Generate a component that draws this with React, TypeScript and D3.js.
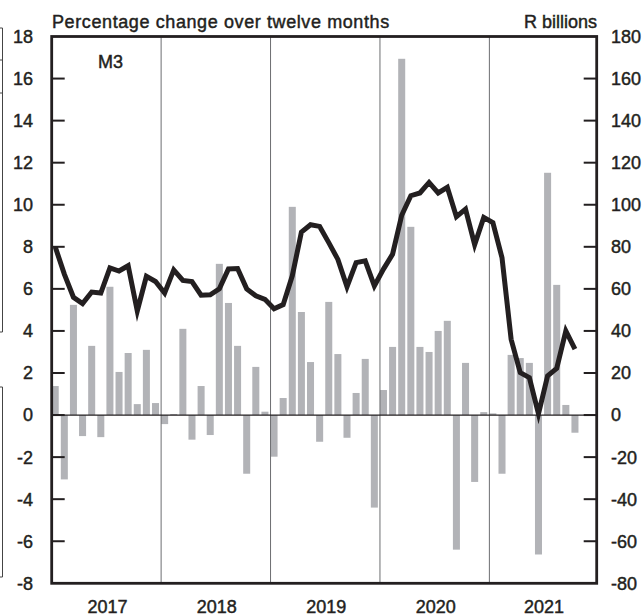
import { useEffect, useRef } from "react";
import * as d3 from "d3";

// monthly categories, Jan 2017 .. Dec 2021
const months = d3.timeMonth.range(new Date(2017, 0, 1), new Date(2022, 0, 1));
const years = [2017, 2018, 2019, 2020, 2021];

// month-on-month change, R billions (right axis)
const barValues = [
  13.8, -30.6, 52.4, -10, 32.9, -10.5, 61, 20.5, 29.5, 5.2, 31, 5.7,
  -4.3, 0.5, 41, -11.7, 13.8, -9.5, 71.9, 53.3, 32.9, -27.9, 22.9, 1.6,
  -19.8, 8.1, 99, 49, 25.2, -12.7, 53.8, 29, -10.8, 10.5, 26.7, -44,
  11.9, 32.4, 169.4, 89.5, 32.4, 30, 40, 44.8, -64, 24.8, -31.8, 1.4,
  0.8, -27.9, 28.6, 27.1, 24.8, -66.3, 115.2, 61.9, 4.8, -8.4,
];

// M3 percentage change over twelve months (left axis)
const lineValues = [
  8.0, 6.7, 5.6, 5.3, 5.85, 5.8, 7.0, 6.85, 7.1, 4.95, 6.6, 6.35,
  5.8, 6.9, 6.4, 6.35, 5.7, 5.72, 6.0, 6.95, 6.97, 6.0, 5.67, 5.5,
  5.05, 5.25, 6.62, 8.7, 9.05, 8.97, 8.2, 7.4, 6.1, 7.25, 7.33, 6.14,
  6.94, 7.65, 9.5, 10.43, 10.56, 11.06, 10.56, 10.83, 9.43, 9.79, 8.1, 9.4,
  9.15, 7.48, 3.6, 2.02, 1.78, 0.06, 1.86, 2.22, 4.0, 3.13,
];

const leftTicks = [18, 16, 14, 12, 10, 8, 6, 4, 2, 0, -2, -4, -6, -8];
const rightTicks = [180, 160, 140, 120, 100, 80, 60, 40, 20, 0, -20, -40, -60, -80];

const App = () => {
  const ref = useRef(null);

  useEffect(() => {
    const W = 643, H = 616;
    const left = 51.7, right = 596.7, top = 36.5, bottom = 583.3;
    const ink = "#231f20";
    const font = "'Liberation Sans', Arial, sans-serif";

    const svg = d3.select(ref.current).attr("width", W).attr("height", H);
    svg.selectAll("*").remove();

    const x = d3.scaleBand()
      .domain(months.map(d => +d))
      .range([left, right])
      .paddingInner(0.23)
      .paddingOuter(0);

    const yL = d3.scaleLinear().domain([-8, 18]).range([bottom, top]);
    const yR = d3.scaleLinear().domain([-80, 180]).range([bottom, top]);

    // cropped neighbouring panel edges at far left
    const edge = svg.append("g").attr("stroke", "#444").attr("stroke-width", 1).attr("fill", "none");
    edge.append("path").attr("d", "M0,28H2.5V332H0M0,60H2.5M0,93H2.5");
    edge.append("path").attr("d", "M0,387H2.5V577H0");

    // bars
    svg.append("g")
      .selectAll("rect")
      .data(barValues)
      .enter()
      .append("rect")
      .attr("x", (d, i) => x(+months[i]))
      .attr("width", x.bandwidth())
      .attr("y", d => yR(Math.max(0, d)))
      .attr("height", d => Math.abs(yR(d) - yR(0)))
      .attr("fill", "#b2b3b7");

    // year dividers
    svg.append("g")
      .selectAll("line")
      .data(years.slice(1))
      .enter()
      .append("line")
      .attr("x1", d => x(+new Date(d, 0, 1)))
      .attr("x2", d => x(+new Date(d, 0, 1)))
      .attr("y1", top)
      .attr("y2", bottom)
      .attr("stroke", "#6d6e71")
      .attr("stroke-width", 1);

    // zero line
    svg.append("line")
      .attr("x1", left).attr("x2", right)
      .attr("y1", yL(0)).attr("y2", yL(0))
      .attr("stroke", ink).attr("stroke-width", 1.2);

    // M3 line
    const line = d3.line()
      .x((d, i) => x(+months[i]) + x.bandwidth() / 2)
      .y(d => yL(d));

    svg.append("path")
      .datum(lineValues)
      .attr("d", line)
      .attr("fill", "none")
      .attr("stroke", ink)
      .attr("stroke-width", 5)
      .attr("stroke-linejoin", "miter")
      .attr("stroke-miterlimit", 6);

    // frame
    svg.append("rect")
      .attr("x", left).attr("y", top)
      .attr("width", right - left).attr("height", bottom - top)
      .attr("fill", "none").attr("stroke", ink).attr("stroke-width", 2.8);

    // inward ticks
    const tickG = svg.append("g").attr("stroke", ink).attr("stroke-width", 2);
    tickG.selectAll(".tl")
      .data(leftTicks.slice(1, -1))
      .enter().append("line")
      .attr("x1", left).attr("x2", left + 13)
      .attr("y1", d => yL(d)).attr("y2", d => yL(d));
    tickG.selectAll(".tr")
      .data(rightTicks.slice(1, -1))
      .enter().append("line")
      .attr("x1", right - 13).attr("x2", right)
      .attr("y1", d => yR(d)).attr("y2", d => yR(d));

    const textStyle = (sel) => sel
      .style("font-family", font)
      .style("font-size", "18px")
      .attr("fill", ink)
      .attr("stroke", ink)
      .attr("stroke-width", 0.45);

    svg.append("g")
      .selectAll("text")
      .data(leftTicks)
      .enter().append("text")
      .attr("x", 33)
      .attr("y", d => yL(d) + 6.4)
      .attr("text-anchor", "end")
      .text(d => d)
      .call(textStyle);

    svg.append("g")
      .selectAll("text")
      .data(rightTicks)
      .enter().append("text")
      .attr("x", 611)
      .attr("y", d => yR(d) + 6.4)
      .attr("text-anchor", "start")
      .text(d => d)
      .call(textStyle);

    svg.append("g")
      .selectAll("text")
      .data(years)
      .enter().append("text")
      .attr("x", d => (x(+new Date(d, 0, 1)) + (d === 2021 ? right : x(+new Date(d + 1, 0, 1)))) / 2 + 1)
      .attr("y", 613)
      .attr("text-anchor", "middle")
      .text(d => d)
      .call(textStyle);

    svg.append("text")
      .attr("x", 52).attr("y", 27.5)
      .style("letter-spacing", "0.6px")
      .text("Percentage change over twelve months")
      .call(textStyle);

    svg.append("text")
      .attr("x", 597).attr("y", 27.5)
      .attr("text-anchor", "end")
      .text("R billions")
      .call(textStyle);

    svg.append("text")
      .attr("x", 98).attr("y", 68)
      .text("M3")
      .call(textStyle);

    return () => {
      d3.select(ref.current).selectAll("*").remove();
    };
  }, []);

  return <svg ref={ref} style={{ position: "absolute", left: 0, top: 0 }}></svg>;
};

export default App;
